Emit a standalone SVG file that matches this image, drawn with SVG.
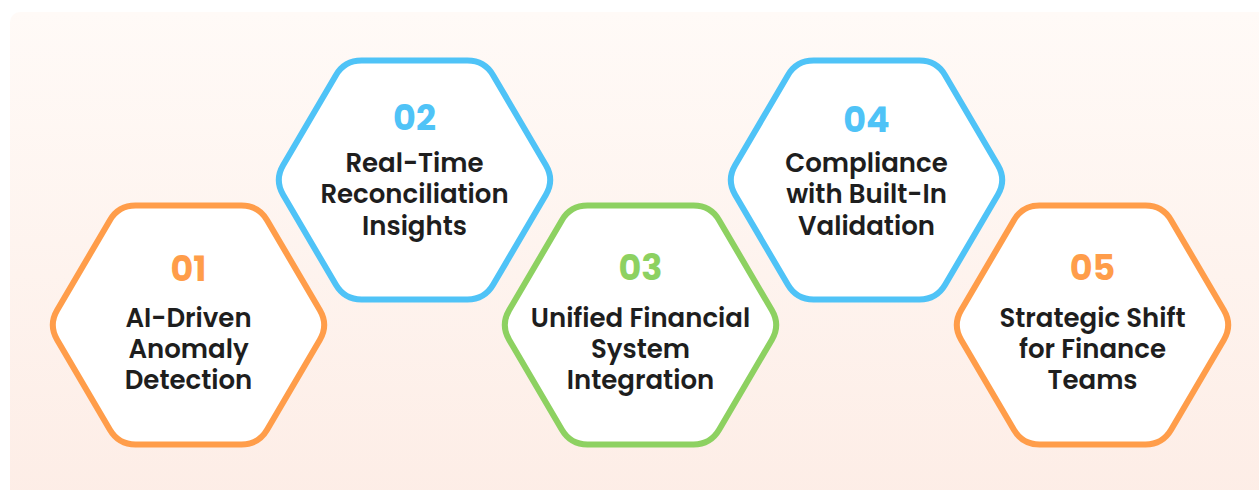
<svg xmlns="http://www.w3.org/2000/svg" xmlns:xlink="http://www.w3.org/1999/xlink" width="1259" height="490" viewBox="0 0 1259 490">
  <defs>
    <linearGradient id="bg" x1="0" y1="0" x2="0" y2="1">
      <stop offset="0" stop-color="#fffaf7"/>
      <stop offset="1" stop-color="#fdede6"/>
    </linearGradient>
    <!-- flat-topped hexagon with rounded corners, centred on 0,0 -->
    <path id="hex" d="M-53,-119.5 L53,-119.5 Q70,-119.5 78.59,-104.83 L131.41,-14.67 Q140,0 131.41,14.67 L78.59,104.83 Q70,119.5 53,119.5 L-53,119.5 Q-70,119.5 -78.59,104.83 L-131.41,14.67 Q-140,0 -131.41,-14.67 L-78.59,-104.83 Q-70,-119.5 -53,-119.5 Z"/>
    <style>
      .shape { fill: #ffffff; stroke-width: 6; stroke-linejoin: round; }
      .orange .shape { stroke: #ff9d4a; }
      .blue .shape { stroke: #4fc3f7; }
      .green .shape { stroke: #8dd161; }
      .num { font-family: "Poppins", "Inter", "Open Sans", sans-serif; font-weight: 700; font-size: 35px; text-anchor: middle; }
      .orange .num { fill: #ff9d4a; }
      .blue .num { fill: #4fc3f7; }
      .green .num { fill: #8dd161; }
      .label { font-family: "Poppins", "Inter", "Open Sans", sans-serif; font-weight: 600; font-size: 26px; fill: #1e1e1e; text-anchor: middle; }
    </style>
  </defs>

  <rect x="10" y="12" width="1262" height="492" rx="10" fill="url(#bg)"/>

  <g id="connectors"/>

  <g id="node-01" class="orange" transform="translate(188.5,325)">
    <use xlink:href="#hex" class="shape"/>
    <text class="num" x="0" y="-44">01</text>
    <text class="label" x="0" y="2">AI-Driven</text>
    <text class="label" x="0" y="33">Anomaly</text>
    <text class="label" x="0" y="64">Detection</text>
  </g>

  <g id="node-02" class="blue" transform="translate(414.5,180)">
    <use xlink:href="#hex" class="shape"/>
    <text class="num" x="0" y="-50">02</text>
    <text class="label" x="0" y="-8">Real-Time</text>
    <text class="label" x="0" y="23">Reconciliation</text>
    <text class="label" x="0" y="55">Insights</text>
  </g>

  <g id="node-03" class="green" transform="translate(640.5,325)">
    <use xlink:href="#hex" class="shape"/>
    <text class="num" x="0" y="-45">03</text>
    <text class="label" x="0" y="2">Unified Financial</text>
    <text class="label" x="0" y="33">System</text>
    <text class="label" x="0" y="64">Integration</text>
  </g>

  <g id="node-04" class="blue" transform="translate(866.5,180)">
    <use xlink:href="#hex" class="shape"/>
    <text class="num" x="0" y="-48">04</text>
    <text class="label" x="0" y="-8">Compliance</text>
    <text class="label" x="0" y="23">with Built-In</text>
    <text class="label" x="0" y="55">Validation</text>
  </g>

  <g id="node-05" class="orange" transform="translate(1092.5,325)">
    <use xlink:href="#hex" class="shape"/>
    <text class="num" x="0" y="-45">05</text>
    <text class="label" x="0" y="2">Strategic Shift</text>
    <text class="label" x="0" y="33">for Finance</text>
    <text class="label" x="0" y="64">Teams</text>
  </g>
</svg>
